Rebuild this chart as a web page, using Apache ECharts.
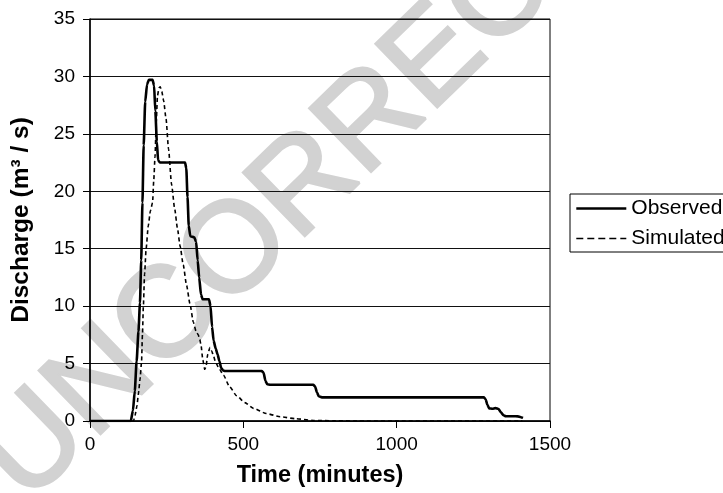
<!DOCTYPE html>
<html>
<head>
<meta charset="utf-8">
<script src="https://cdn.jsdelivr.net/npm/echarts@6/dist/echarts.min.js"></script>
<style>
html,body{margin:0;padding:0;background:#fff;}
#chart{width:723px;height:493px;}
</style>
</head>
<body>
<div id="chart"></div>
<script>
// ---- data ----
var xTicks = [0, 500, 1000, 1500];
var yTicks = [0, 5, 10, 15, 20, 25, 30, 35];

var obsTime  = [0,125,133,140,146,152,158,163,167,171,175,180,186,192,204,209,213,218,222,228,310,314,318,322,327,340,346,351,356,362,367,388,393,398,403,410,416,422,428,434,440,560,566,572,578,588,728,734,740,746,756,1284,1290,1296,1302,1312,1322,1332,1340,1348,1356,1380,1395,1405,1412];
var obsValue = [0,0,0,0.9,2.6,5.2,7.8,10.3,14,19,24,27.8,29.3,29.7,29.7,29.2,27,24.3,22.7,22.5,22.5,22,19.5,17,16.1,16.0,15.6,14,12.5,11,10.6,10.6,10,8.2,7,6.3,5.8,5.2,4.6,4.4,4.35,4.35,4.2,3.5,3.2,3.15,3.15,3.0,2.5,2.15,2.06,2.06,1.9,1.4,1.1,1.07,1.12,1.05,0.75,0.5,0.42,0.42,0.4,0.33,0.27];

var simTime  = [0,142,147,153,158,163,168,171,174,178,183,190,197,204,208,212,216,220,225,229,234,240,248,256,266,276,285,294,304,315,326,337,346,353,358,362,368,374,378,384,391,397,402,410,420,435,455,478,505,533,575,620,670,728,800,870,1410];
var simValue = [0,0,0.5,1.3,2.4,3.6,5.1,7.5,10,12.8,15,17,18.3,19,21,23,26,28.3,29.0,29.1,28.7,27.9,26.3,23.7,20.6,18.5,16.8,15.2,13.6,11.8,10.2,8.6,7.8,7.5,7.1,6.6,5.3,4.5,4.7,5.8,6.4,6.1,5.7,5.1,4.6,4.0,3.0,2.2,1.6,1.1,0.65,0.37,0.2,0.05,0.02,0,0];

var seriesNames = ['Observed', 'Simulated'];
var xTitle = 'Time (minutes)';
var yTitle = 'Discharge (m\u00B3 / s)';
var watermark = 'UNCORRECTED';

function zip(a, b) { return a.map(function (v, i) { return [v, b[i]]; }); }

var FONT = 'Liberation Sans, Arial, Helvetica, sans-serif';
var chart = echarts.init(document.getElementById('chart'), null, {renderer: 'canvas'});

chart.setOption({
  animation: false,
  backgroundColor: '#ffffff',
  graphic: [{
    type: 'text',
    z: -10,
    silent: true,
    x: 2, y: 480,
    rotation: 0.77,
    style: {
      text: watermark,
      fill: '#d2d2d2',
      stroke: '#d2d2d2',
      lineWidth: 3,
      font: 'normal 128px ' + FONT,
      textAlign: 'left',
      textVerticalAlign: 'middle'
    }
  }],
  grid: {
    left: 90, right: 173, top: 19, bottom: 67,
    show: true, borderColor: '#000', borderWidth: 1, backgroundColor: 'transparent'
  },
  legend: {
    left: 570, top: 194,
    orient: 'vertical',
    itemWidth: 50, itemHeight: 14, itemGap: 9,
    padding: [4, 30, 3, 5],
    borderColor: '#000', borderWidth: 1,
    itemStyle: {opacity: 0},
    textStyle: {fontFamily: FONT, fontSize: 21, color: '#000'},
    data: [
      {name: seriesNames[0], itemStyle: {opacity: 0}, lineStyle: {color: '#000', width: 2.6, type: 'solid', opacity: 1}},
      {name: seriesNames[1], itemStyle: {opacity: 0}, lineStyle: {color: '#000', width: 1.6, type: [7, 4], opacity: 1}}
    ]
  },
  xAxis: {
    type: 'value', min: xTicks[0], max: xTicks[xTicks.length - 1], interval: 500,
    name: xTitle, nameLocation: 'middle', nameGap: 43,
    nameTextStyle: {fontFamily: FONT, fontSize: 23.5, fontWeight: 'bold', color: '#000'},
    axisLine: {show: true, lineStyle: {color: '#000', width: 1.5}},
    axisTick: {show: true, inside: false, length: 7, lineStyle: {color: '#000', width: 1}},
    axisLabel: {fontFamily: FONT, fontSize: 19, color: '#000', margin: 14,
      formatter: function (v) { return String(v); }},
    splitLine: {show: false}
  },
  yAxis: {
    type: 'value', min: yTicks[0], max: yTicks[yTicks.length - 1], interval: 5,
    name: yTitle, nameLocation: 'middle', nameGap: 56, nameRotate: 90,
    nameTextStyle: {fontFamily: FONT, fontSize: 24.5, fontWeight: 'bold', color: '#000'},
    axisLine: {show: true, lineStyle: {color: '#000', width: 1.5}},
    axisTick: {show: true, inside: false, length: 7, lineStyle: {color: '#000', width: 1}},
    axisLabel: {fontFamily: FONT, fontSize: 19, color: '#000', margin: 15,
      formatter: function (v) { return String(v); }},
    splitLine: {show: true, lineStyle: {color: '#111', width: 1}}
  },
  series: [
    {
      name: seriesNames[0], type: 'line', data: zip(obsTime, obsValue),
      symbol: 'none', smooth: 0.2, smoothMonotone: 'x',
      lineStyle: {color: '#000', width: 2.6, type: 'solid'},
      itemStyle: {color: '#000'}, z: 3
    },
    {
      name: seriesNames[1], type: 'line', data: zip(simTime, simValue),
      symbol: 'none', smooth: 0.2, smoothMonotone: 'x',
      lineStyle: {color: '#000', width: 1.6, type: [4, 3]},
      itemStyle: {color: '#000'}, z: 4
    }
  ]
});
</script>
</body>
</html>
